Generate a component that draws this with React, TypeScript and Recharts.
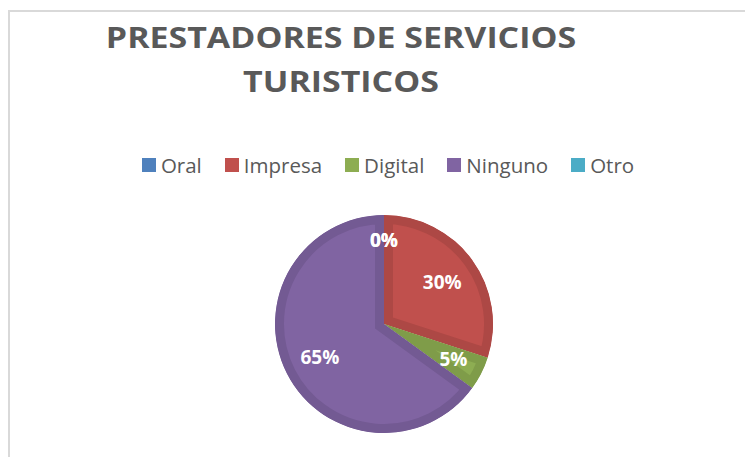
import React from "react";
import { PieChart, Pie, Cell, Sector } from "recharts";

const categories = ["Oral", "Impresa", "Digital", "Ninguno", "Otro"];
const values = [0, 30, 5, 65, 0];
const fills = ["#4F81BD", "#C0504D", "#8DAD52", "#8064A2", "#4BACC6"];
const borders = ["#466FA3", "#AD4845", "#7F9C49", "#735A93", "#439AB2"];
const titleLines = ["PRESTADORES DE SERVICIOS", "TURISTICOS"];

const data = categories.map((name, i) => ({ name, value: values[i] }));
const RAD = Math.PI / 180;

const SliceShape = (props: any) => {
  const { cx, cy, innerRadius, outerRadius, startAngle, endAngle, index } = props;
  const id = `slice-clip-${index}`;
  if (Math.abs(endAngle - startAngle) < 0.001) return <g />;
  return (
    <g>
      <defs>
        <clipPath id={id}>
          <Sector cx={cx} cy={cy} innerRadius={innerRadius} outerRadius={outerRadius} startAngle={startAngle} endAngle={endAngle} />
        </clipPath>
      </defs>
      <Sector
        cx={cx}
        cy={cy}
        innerRadius={innerRadius}
        outerRadius={outerRadius}
        startAngle={startAngle}
        endAngle={endAngle}
        fill={fills[index]}
        stroke={borders[index]}
        strokeWidth={18}
        clipPath={`url(#${id})`}
      />
    </g>
  );
};

const renderLabel = (props: any) => {
  const { cx, cy, midAngle, percent } = props;
  const p = Math.min(percent / 0.1, 1);
  const r = 72 + 12 * (1 - p);
  const x = cx + r * Math.cos(-midAngle * RAD);
  const y = cy + r * Math.sin(-midAngle * RAD);
  return (
    <text
      x={x}
      y={y}
      fill="#FFFFFF"
      textAnchor="middle"
      dominantBaseline="central"
      fontFamily="'Open Sans', sans-serif"
      fontWeight={700}
      fontSize={19}
    >
      {`${Math.round(percent * 100)}%`}
    </text>
  );
};

const LegendBlock = () => (
  <div
    style={{
      position: "absolute",
      left: 0,
      top: 155,
      display: "flex",
      justifyContent: "center",
      alignItems: "center",
      width: 776,
      fontFamily: "'Open Sans', sans-serif",
      fontSize: 20.5,
      color: "#595959",
    }}
  >
    {categories.map((c, i) => (
      <div key={c} style={{ display: "flex", alignItems: "center", marginRight: i < categories.length - 1 ? 23 : 0 }}>
        <span style={{ width: 14, height: 14, background: fills[i], display: "inline-block", marginRight: 5 }} />
        <span style={{ lineHeight: "20px" }}>{c}</span>
      </div>
    ))}
  </div>
);

export default function App() {
  return (
    <div style={{ position: "absolute", left: 0, top: 0, width: 745, height: 457, background: "#fff", overflow: "hidden" }}>
      <div
        style={{
          position: "absolute",
          left: 8,
          top: 10,
          width: 800,
          height: 500,
          borderLeft: "2px solid #D9D9D9",
          borderTop: "2px solid #D9D9D9",
        }}
      />
      {titleLines.map((t, i) => (
        <div
          key={t}
          style={{
            position: "absolute",
            left: 0,
            width: 682,
            top: i === 0 ? 17 : 61,
            textAlign: "center",
            fontFamily: "'Open Sans', sans-serif",
            fontWeight: 700,
            fontSize: 29,
            lineHeight: "40px",
            color: "#595959",
            whiteSpace: "nowrap",
            transform: "scaleX(1.17)",
            transformOrigin: "341px 50%",
          }}
        >
          {t}
        </div>
      ))}
      <LegendBlock />
      <div style={{ position: "absolute", left: 0, top: 0 }}>
        <PieChart width={745} height={457} margin={{ top: 0, right: 0, bottom: 0, left: 0 }}>
          <Pie
            data={data}
            dataKey="value"
            nameKey="name"
            cx={384}
            cy={324}
            outerRadius={109}
            startAngle={90}
            endAngle={-270}
            stroke="none"
            isAnimationActive={false}
            labelLine={false}
            label={renderLabel}
            shape={SliceShape}
          >
            {data.map((d, i) => (
              <Cell key={d.name} fill={fills[i]} />
            ))}
          </Pie>
        </PieChart>
      </div>
    </div>
  );
}
